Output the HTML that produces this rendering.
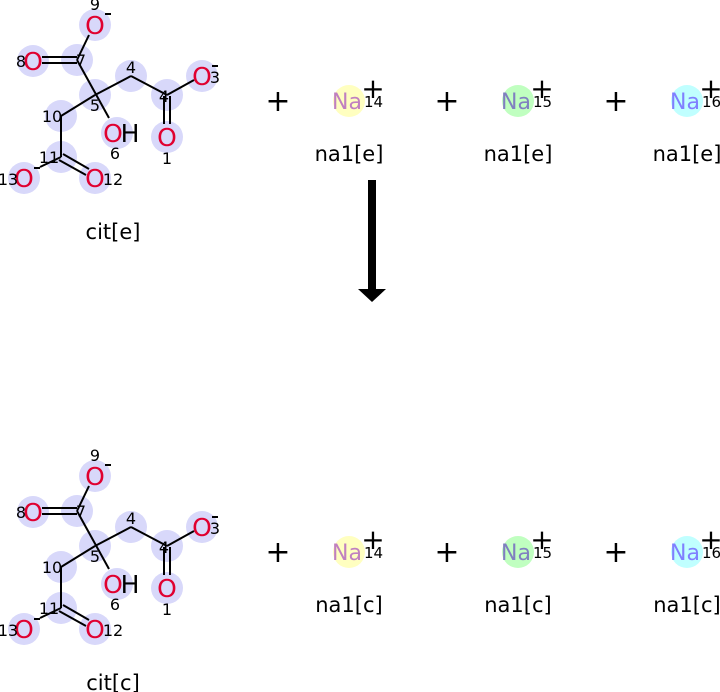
<!DOCTYPE html>
<html><head><style>body{margin:0;background:#fff}svg{display:block}</style></head><body>
<svg width="720" height="692" xmlns="http://www.w3.org/2000/svg" font-family="'DejaVu Sans', 'Liberation Sans', sans-serif">
<defs>
<g id="mol">
<g fill="#d8d8fa">
<circle cx="95" cy="25" r="16"/><circle cx="33" cy="61" r="16"/><circle cx="77" cy="60" r="16"/>
<circle cx="131" cy="76" r="16"/><circle cx="202" cy="76" r="16"/><circle cx="95" cy="95" r="16"/>
<circle cx="167" cy="95" r="16"/><circle cx="61" cy="116" r="16"/><circle cx="117" cy="133" r="16"/>
<circle cx="167" cy="137" r="16"/><circle cx="61" cy="157" r="16"/><circle cx="24" cy="178" r="16"/>
<circle cx="95" cy="178" r="16"/>
</g>
<g stroke="#000" stroke-width="2" fill="none">
<line x1="89" y1="35" x2="77" y2="60"/>
<line x1="77" y1="57" x2="42" y2="57"/><line x1="77" y1="63" x2="42" y2="63"/>
<line x1="77" y1="60" x2="109" y2="118"/>
<line x1="95" y1="95" x2="131" y2="76"/><line x1="131" y1="76" x2="167" y2="95"/>
<line x1="167" y1="95" x2="194" y2="80"/>
<line x1="164" y1="96" x2="164" y2="124"/><line x1="170" y1="96" x2="170" y2="124"/>
<line x1="95" y1="95" x2="61" y2="116"/><line x1="61" y1="116" x2="61" y2="157"/>
<line x1="59" y1="160" x2="86" y2="175"/><line x1="63" y1="154" x2="89" y2="169"/>
<line x1="61" y1="157" x2="40" y2="167"/>
</g>
<g fill="#e00030" font-size="25" text-anchor="middle">
<text x="95" y="34">O</text><text x="33" y="70">O</text><text x="202" y="85">O</text>
<text x="113" y="142">O</text><text x="167" y="146">O</text><text x="24" y="187">O</text><text x="95" y="187">O</text>
</g>
<text x="130" y="142" font-size="25" text-anchor="middle">H</text>
<g font-size="16" fill="#000" text-anchor="middle">
<text x="95" y="10">9</text><text x="21" y="67">8</text><text x="81" y="66">7</text>
<text x="131" y="73">4</text><text x="215" y="83">3</text><text x="95" y="111">5</text>
<text x="164" y="102">4</text><text x="52" y="122">10</text><text x="115" y="159">6</text>
<text x="167" y="164">1</text><text x="49" y="163">11</text><text x="8" y="185">13</text>
<text x="113" y="185">12</text>
</g>
<g stroke="#000" stroke-width="2"><line x1="105" y1="14" x2="111" y2="14"/><line x1="212" y1="66" x2="218" y2="66"/><line x1="34" y1="168" x2="40" y2="168"/></g>
</g>
</defs>
<use href="#mol"/>
<use href="#mol" y="451"/>
<g font-size="21" text-anchor="middle">
<text x="113" y="239">cit[e]</text><text x="113" y="690">cit[c]</text>
<text x="349" y="161">na1[e]</text><text x="518" y="161">na1[e]</text><text x="687" y="161">na1[e]</text>
<text x="349" y="612">na1[c]</text><text x="518" y="612">na1[c]</text><text x="687" y="612">na1[c]</text>
</g>
<g font-size="30" text-anchor="middle">
<text x="278" y="111">+</text><text x="447" y="111">+</text><text x="616" y="111">+</text>
<text x="278" y="562">+</text><text x="447" y="562">+</text><text x="616" y="562">+</text>
</g>
<g id="nas">
<circle cx="349" cy="101" r="16" fill="#ffffc0"/><circle cx="518" cy="101" r="16" fill="#c0ffc0"/><circle cx="687" cy="101" r="16" fill="#c0ffff"/>
<g font-size="22" text-anchor="middle">
<text x="347" y="109" fill="#c080c0">Na</text><text x="516" y="109" fill="#8080c0">Na</text><text x="685" y="109" fill="#8080ff">Na</text>
</g>
<g font-size="15"><text x="364" y="107">14</text><text x="533" y="107">15</text><text x="702" y="107">16</text></g>
<g font-size="28" text-anchor="middle"><text x="373" y="98">+</text><text x="542" y="98">+</text><text x="711" y="98">+</text></g>
</g>
<use href="#nas" y="451"/>
<rect x="368" y="180" width="8" height="110" fill="#000"/>
<polygon points="358,289 386,289 372,302" fill="#000"/>
</svg>
</body></html>
